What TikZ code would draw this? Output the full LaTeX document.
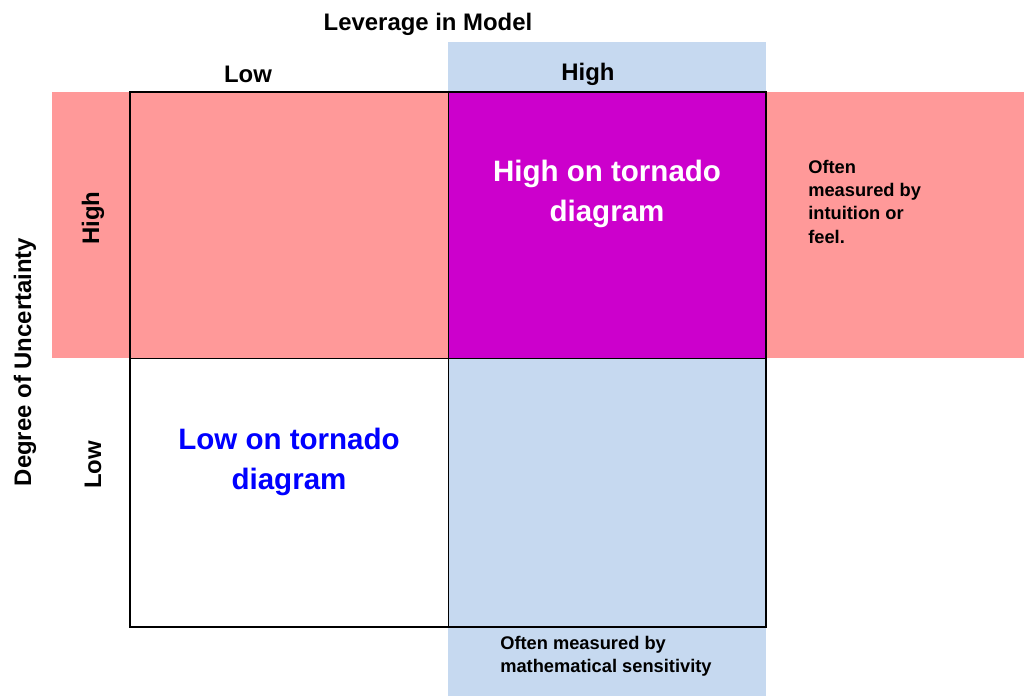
\documentclass[tikz,border=0pt]{standalone}
\usepackage{fontspec}
\setmainfont{Liberation Sans}
\usetikzlibrary{positioning}
\definecolor{pinkband}{HTML}{FF9999}
\definecolor{blueband}{HTML}{C6D9F0}
\definecolor{magcell}{HTML}{CC00CC}
\definecolor{lowblue}{HTML}{0000FF}
\begin{document}
\begin{tikzpicture}[
	x=0.025cm, y=-0.025cm,
	axis/.style={
		font=\fontsize{17pt}{20pt}\selectfont\bfseries,
	},
	cell/.style={
		align=center,
		font=\fontsize{21pt}{28pt}\selectfont\bfseries,
	},
	note/.style={
		align=left,
		anchor=north west,
		inner sep=0pt,
		font=\fontsize{13pt}{16.5pt}\selectfont\bfseries,
	}
]
	\useasboundingbox (0,0) rectangle (1024,696);
	% bands
	\fill [pinkband] (52,92) rectangle (1024,358);
	\fill [blueband] (448,42) rectangle (766,696);
	\fill [magcell] (448,92) rectangle (766,358);
	% grid
	\draw [line width=1.2pt] (130,92) rectangle (766,627);
	\draw [line width=0.6pt] (448,92) -- (448,627);
	\draw [line width=0.6pt] (130,358) -- (766,358);

	\node (lev) [axis] at (428,24) {Leverage in Model};
	\node (colLow) [axis] at (248,74) {Low};
	\node (colHigh) [axis] at (588,74) {High};
	\node (rowHigh) [axis,rotate=90] at (93,218) {High};
	\node (rowLow) [axis,rotate=90] at (93,465) {Low};
	\node (deg) [axis,rotate=90] at (25,362) {Degree of Uncertainty};

	\node (hiCell) [cell,text=white] at (607,194)
		{High on tornado\\diagram};
	\node (loCell) [cell,text=lowblue] at (289,462)
		{Low on tornado\\diagram};

	\node (noteRight) [note] at (808,160)
		{Often\\measured by\\intuition or\\feel.};
	\node (noteBottom) [note] at (500,636)
		{Often measured by\\mathematical sensitivity};
\end{tikzpicture}
\end{document}
